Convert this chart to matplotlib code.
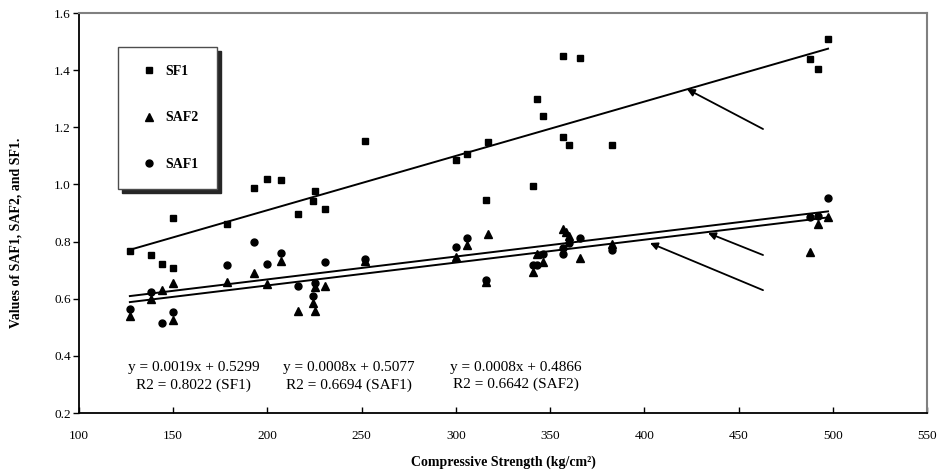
import numpy as np
import matplotlib
matplotlib.use('Agg')
import matplotlib.pyplot as plt

plt.rcParams['font.family'] = ['Liberation Serif', 'DejaVu Serif']

# compressive strength (kg/cm2) and factor values
cs_sf1 = [127, 138, 144, 150, 150, 178.5, 193, 200, 207, 216, 224, 225, 230.5, 252,
          300, 306, 316, 317, 341, 343, 346, 357, 357, 360, 366, 383, 488, 492, 497.5]
sf1 = [0.767, 0.753, 0.722, 0.708, 0.882, 0.862, 0.987, 1.019, 1.016, 0.897, 0.942, 0.977, 0.914, 1.152,
       1.085, 1.106, 0.945, 1.149, 0.994, 1.299, 1.240, 1.449, 1.166, 1.138, 1.443, 1.138, 1.439, 1.404, 1.509]

cs_saf1 = [127, 138, 144, 150, 178.5, 193, 200, 207, 216, 224, 225, 230.5, 252,
           300, 306, 316, 341, 343, 346, 357, 357, 360, 366, 383, 488, 492, 497.5]
saf1 = [0.564, 0.624, 0.515, 0.554, 0.718, 0.799, 0.722, 0.760, 0.645, 0.610, 0.655, 0.729, 0.739,
        0.781, 0.813, 0.665, 0.718, 0.718, 0.757, 0.777, 0.757, 0.795, 0.813, 0.770, 0.886, 0.890, 0.953]

cs_saf2 = [127, 138, 144, 150, 150, 178.5, 193, 200, 207, 216, 224, 225, 225, 230.5, 252,
           300, 306, 316, 317, 341, 343, 346, 357, 358.5, 360, 366, 383, 488, 492, 497.5]
saf2 = [0.540, 0.600, 0.630, 0.655, 0.526, 0.658, 0.690, 0.652, 0.732, 0.557, 0.585, 0.557, 0.641, 0.645, 0.732,
        0.746, 0.788, 0.658, 0.826, 0.694, 0.757, 0.727, 0.844, 0.834, 0.820, 0.744, 0.792, 0.764, 0.862, 0.886]

# trend line equations as printed on the chart
fit_names = ['SF1', 'SAF1', 'SAF2']
fit_slope = [0.0019, 0.0008, 0.0008]
fit_icept = [0.5299, 0.5077, 0.4866]
fit_r2 = [0.8022, 0.6694, 0.6642]
fit_range = [127, 497.5]

fig = plt.figure(figsize=(9.39, 4.73), dpi=100)
ax = fig.add_axes([0.0841, 0.1268, 0.9031, 0.8457])

ax.plot(cs_sf1, sf1, 's', color='k', ms=5, label='SF1')
ax.plot(cs_saf2, saf2, '^', color='k', ms=5.5, label='SAF2')
ax.plot(cs_saf1, saf1, 'o', color='k', ms=5, label='SAF1')

xf = np.array(fit_range)
for m, b in zip(fit_slope, fit_icept):
    ax.plot(xf, m * xf + b, color='k', lw=1.4)

# equation labels
eq_pos = [(161, 0.328), (243, 0.328), (332, 0.33)]
for (x, y), name, m, b, r2 in zip(eq_pos, fit_names, fit_slope, fit_icept, fit_r2):
    ax.text(x, y, 'y = {:.4f}x + {:.4f}\nR2 = {:.4f} ({})'.format(m, b, r2, name),
            ha='center', va='center', fontsize=11, linespacing=1.4)

# arrows pointing at the trend lines
arrows = [((422.6, 1.334), (463, 1.194)),
          ((433.8, 0.830), (463, 0.753)),
          ((403.0, 0.795), (463, 0.630))]
for head, tail in arrows:
    ax.annotate('', xy=head, xytext=tail,
                arrowprops=dict(arrowstyle='-|>', color='k', lw=1.3, mutation_scale=11,
                                shrinkA=0, shrinkB=0))

ax.set_xlim(100, 550)
ax.set_ylim(0.2, 1.6)
ax.set_xticks(range(100, 551, 50))
ax.set_yticks(np.arange(0.2, 1.61, 0.2))
ax.yaxis.set_major_formatter(matplotlib.ticker.FormatStrFormatter('%.1f'))
ax.tick_params(axis='x', direction='in', length=4, labelsize=9.5, pad=12, width=1)
ax.tick_params(axis='y', direction='out', length=4, labelsize=9.5, pad=2, width=1)

for s in ['top', 'right']:
    ax.spines[s].set_color('#808080')
    ax.spines[s].set_linewidth(1.5)
for s in ['left', 'bottom']:
    ax.spines[s].set_color('k')
    ax.spines[s].set_linewidth(1.3)

ax.set_xlabel('Compressive Strength (kg/cm²)', fontsize=10, fontweight='bold', labelpad=10)
ax.set_ylabel('Values of SAF1, SAF2, and SF1.', fontsize=10, fontweight='bold', labelpad=22)
ax.yaxis.set_label_coords(-0.066, 0.45)

leg = ax.legend(loc='upper left', bbox_to_anchor=(0.046, 0.915), borderaxespad=0,
                frameon=True, fancybox=False, labelspacing=2.4, borderpad=1.3,
                handlelength=1.8, handletextpad=0.3,
                shadow={'ox': 3, 'oy': -3, 'color': '0.15', 'alpha': 1},
                prop={'weight': 'bold', 'size': 10})
leg.get_frame().set_edgecolor('0.3')
leg.get_frame().set_linewidth(1)

fig.savefig('out.png', dpi=100)
